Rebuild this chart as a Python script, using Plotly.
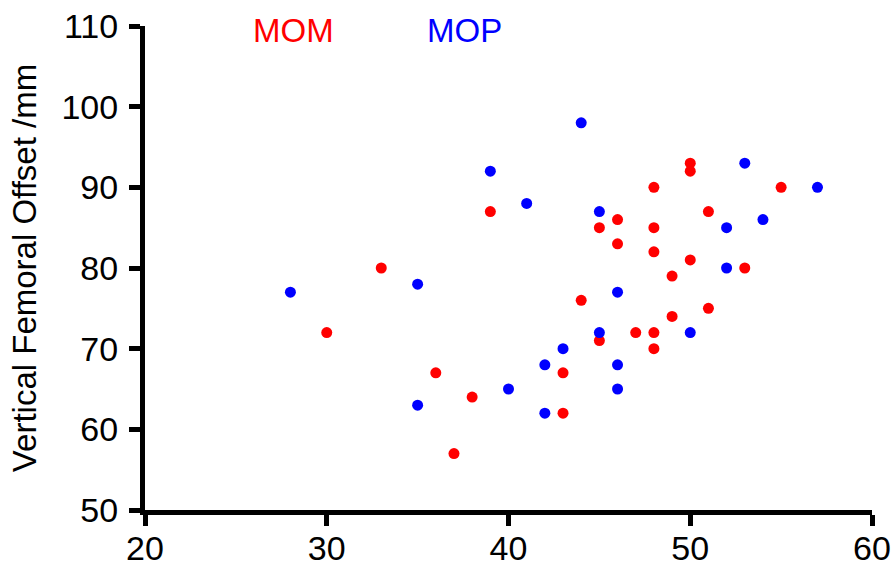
import plotly.graph_objects as go

# MOM series (red)
mom_x = [30, 33, 36, 37, 38, 39, 43, 43, 44, 45, 45, 46, 46, 47, 48, 48, 48, 48, 48,
         49, 49, 50, 50, 50, 51, 51, 53, 55]
mom_y = [72, 80, 67, 57, 64, 87, 67, 62, 76, 85, 71, 86, 83, 72, 90, 85, 82, 72, 70,
         79, 74, 93, 92, 81, 87, 75, 80, 90]

# MOP series (blue)
mop_x = [28, 35, 35, 39, 40, 41, 42, 42, 43, 44, 45, 45, 46, 46, 46, 50, 52, 52, 53, 54, 57]
mop_y = [77, 78, 63, 92, 65, 88, 68, 62, 70, 98, 87, 72, 77, 68, 65, 72, 85, 80, 93, 86, 90]

x_ticks = [20, 30, 40, 50, 60]
y_ticks = [50, 60, 70, 80, 90, 100, 110]
y_title = "Vertical Femoral Offset /mm"
labels = ["MOM", "MOP"]

RED = "#FF0000"
BLUE = "#0000FF"
FONT = "Arial, Liberation Sans, Helvetica, sans-serif"

fig = go.Figure()
fig.add_trace(go.Scatter(x=mom_x, y=mom_y, mode="markers", name=labels[0],
                         marker=dict(color=RED, size=11, line=dict(width=0))))
fig.add_trace(go.Scatter(x=mop_x, y=mop_y, mode="markers", name=labels[1],
                         marker=dict(color=BLUE, size=11, line=dict(width=0))))

fig.add_annotation(x=0.2036, y=1.0, xref="paper", yref="paper", text=labels[0],
                   showarrow=False, font=dict(family=FONT, size=33, color=RED),
                   xanchor="center", yanchor="middle", yshift=-4)
fig.add_annotation(x=0.4388, y=1.0, xref="paper", yref="paper", text=labels[1],
                   showarrow=False, font=dict(family=FONT, size=33, color=BLUE),
                   xanchor="center", yanchor="middle", yshift=-4)

axis_common = dict(
    showgrid=False, zeroline=False, showline=True, linecolor="black", linewidth=5,
    ticks="outside", ticklen=11, tickwidth=5, tickcolor="black",
    tickfont=dict(family=FONT, size=34, color="black"), automargin=False,
    ticklabeloverflow="allow",
)

fig.update_xaxes(range=[20, 60], tickvals=x_ticks, ticklabelstandoff=-7, **axis_common)
fig.update_yaxes(range=[50, 110], tickvals=y_ticks, ticklabelstandoff=4,
                 title=dict(text=y_title, font=dict(family=FONT, size=33, color="black"),
                            standoff=16),
                 **axis_common)

fig.update_layout(
    width=895, height=567,
    margin=dict(l=145, r=23, t=26, b=57),
    paper_bgcolor="white", plot_bgcolor="white",
    showlegend=False,
)

# remove the default page margin so the figure fills the window without scrollbars
fig.write_html(
    "out.html",
    config={"displayModeBar": False},
    post_script=(
        "document.body.style.margin='0';"
        "document.body.style.overflow='hidden';"
        "document.documentElement.style.overflow='hidden';"
    ),
)
